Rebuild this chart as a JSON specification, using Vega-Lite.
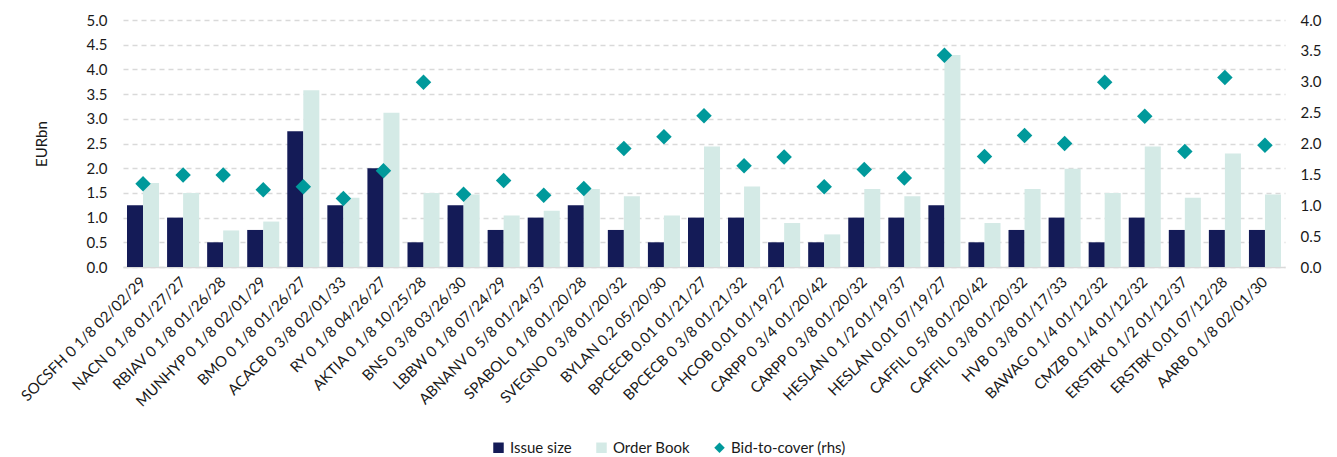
{
  "$schema": "https://vega.github.io/schema/vega-lite/v6.json",
  "width": 1162,
  "height": 247,
  "autosize": {"type": "none"},
  "padding": {"left": 123, "top": 20, "right": 52, "bottom": 190},
  "background": "white",
  "config": {
    "font": "Lato",
    "view": {"stroke": null},
    "axis": {"labelFont": "Lato", "titleFont": "Lato", "labelColor": "#1a1a1a", "titleColor": "#1a1a1a"},
    "legend": {"labelFont": "Lato"}
  },
  "data": {
    "values": [
      {"label": "SOCSFH 0 1/8 02/02/29", "issue": 1.25, "orderbook": 1.70, "btc": 1.35},
      {"label": "NACN 0 1/8 01/27/27", "issue": 1.0, "orderbook": 1.50, "btc": 1.49},
      {"label": "RBIAV 0 1/8 01/26/28", "issue": 0.5, "orderbook": 0.74, "btc": 1.49},
      {"label": "MUNHYP 0 1/8 02/01/29", "issue": 0.75, "orderbook": 0.92, "btc": 1.25},
      {"label": "BMO 0 1/8 01/26/27", "issue": 2.75, "orderbook": 3.58, "btc": 1.30},
      {"label": "ACACB 0 3/8 02/01/33", "issue": 1.25, "orderbook": 1.40, "btc": 1.11},
      {"label": "RY 0 1/8 04/26/27", "issue": 2.0, "orderbook": 3.12, "btc": 1.56},
      {"label": "AKTIA 0 1/8 10/25/28", "issue": 0.5, "orderbook": 1.50, "btc": 2.99},
      {"label": "BNS 0 3/8 03/26/30", "issue": 1.25, "orderbook": 1.47, "btc": 1.18},
      {"label": "LBBW 0 1/8 07/24/29", "issue": 0.75, "orderbook": 1.04, "btc": 1.40},
      {"label": "ABNANV 0 5/8 01/24/37", "issue": 1.0, "orderbook": 1.14, "btc": 1.16},
      {"label": "SPABOL 0 1/8 01/20/28", "issue": 1.25, "orderbook": 1.58, "btc": 1.27},
      {"label": "SVEGNO 0 3/8 01/20/32", "issue": 0.75, "orderbook": 1.43, "btc": 1.92},
      {"label": "BYLAN 0.2 05/20/30", "issue": 0.5, "orderbook": 1.04, "btc": 2.11},
      {"label": "BPCECB 0.01 01/21/27", "issue": 1.0, "orderbook": 2.44, "btc": 2.45},
      {"label": "BPCECB 0 3/8 01/21/32", "issue": 1.0, "orderbook": 1.63, "btc": 1.64},
      {"label": "HCOB 0.01 01/19/27", "issue": 0.5, "orderbook": 0.89, "btc": 1.78},
      {"label": "CARPP 0 3/4 01/20/42", "issue": 0.5, "orderbook": 0.66, "btc": 1.30},
      {"label": "CARPP 0 3/8 01/20/32", "issue": 1.0, "orderbook": 1.58, "btc": 1.58},
      {"label": "HESLAN 0 1/2 01/19/37", "issue": 1.0, "orderbook": 1.43, "btc": 1.44},
      {"label": "HESLAN 0.01 07/19/27", "issue": 1.25, "orderbook": 4.29, "btc": 3.43},
      {"label": "CAFFIL 0 5/8 01/20/42", "issue": 0.5, "orderbook": 0.89, "btc": 1.79},
      {"label": "CAFFIL 0 3/8 01/20/32", "issue": 0.75, "orderbook": 1.58, "btc": 2.13},
      {"label": "HVB 0 3/8 01/17/33", "issue": 1.0, "orderbook": 1.99, "btc": 2.00},
      {"label": "BAWAG 0 1/4 01/12/32", "issue": 0.5, "orderbook": 1.50, "btc": 2.99},
      {"label": "CMZB 0 1/4 01/12/32", "issue": 1.0, "orderbook": 2.44, "btc": 2.44},
      {"label": "ERSTBK 0 1/2 01/12/37", "issue": 0.75, "orderbook": 1.40, "btc": 1.87},
      {"label": "ERSTBK 0.01 07/12/28", "issue": 0.75, "orderbook": 2.30, "btc": 3.07},
      {"label": "AARB 0 1/8 02/01/30", "issue": 0.75, "orderbook": 1.47, "btc": 1.97}
    ]
  },
  "encoding": {
    "x": {
      "field": "label",
      "type": "nominal",
      "sort": null,
      "scale": {"paddingInner": 0.2, "paddingOuter": 0.1},
      "axis": {
        "title": null,
        "labelAngle": -45,
        "labelAlign": "right",
        "labelBaseline": "middle",
        "labelFontSize": 15,
        "labelPadding": 12,
        "ticks": false,
        "domainColor": "#d9d9d9",
        "domainWidth": 1.5,
        "grid": false,
        "labelLimit": 300
      }
    }
  },
  "layer": [
    {
      "transform": [{"fold": ["issue", "orderbook"], "as": ["series", "value"]}],
      "mark": {"type": "bar"},
      "encoding": {
        "xOffset": {"field": "series", "type": "nominal", "sort": ["issue", "orderbook"], "scale": {"paddingInner": 0, "paddingOuter": 0}},
        "y": {
          "field": "value",
          "type": "quantitative",
          "scale": {"domain": [0, 5]},
          "axis": {
            "title": "EURbn",
            "titleFontSize": 15,
            "titleFontWeight": "normal",
            "titlePadding": 37,
            "values": [0, 0.5, 1, 1.5, 2, 2.5, 3, 3.5, 4, 4.5, 5],
            "format": ".1f",
            "labelFontSize": 15,
            "labelPadding": 16,
            "ticks": false,
            "domain": false,
            "grid": true,
            "gridColor": "#d9d9d9",
            "gridDash": [5, 4],
            "gridWidth": 1.3
          }
        },
        "color": {
          "field": "series",
          "type": "nominal",
          "scale": {"domain": ["issue", "orderbook", "btc"], "range": ["#141b57", "#d4eae6", "#00999b"]},
          "legend": {
            "title": null,
            "orient": "none",
            "direction": "horizontal",
            "legendX": 368,
            "legendY": 420,
            "labelFontSize": 15,
            "labelColor": "#1a1a1a",
            "symbolSize": 110,
            "symbolStrokeWidth": 0,
            "columnPadding": 22,
            "labelOffset": 4,
            "labelExpr": "datum.value == 'issue' ? 'Issue size' : datum.value == 'orderbook' ? 'Order Book' : 'Bid-to-cover (rhs)'"
          }
        }
      }
    },
    {
      "mark": {"type": "point", "filled": true, "opacity": 1, "size": 240},
      "encoding": {
        "y": {
          "field": "btc",
          "type": "quantitative",
          "scale": {"domain": [0, 4]},
          "axis": {
            "title": null,
            "orient": "right",
            "values": [0, 0.5, 1, 1.5, 2, 2.5, 3, 3.5, 4],
            "format": ".1f",
            "labelFontSize": 15,
            "labelPadding": 15,
            "ticks": false,
            "domain": false,
            "grid": false
          }
        },
        "color": {"datum": "btc"},
        "shape": {
          "datum": "btc",
          "scale": {"domain": ["issue", "orderbook", "btc"], "range": ["square", "square", "diamond"]},
          "legend": {"title": null}
        }
      }
    }
  ],
  "resolve": {"scale": {"y": "independent"}}
}
